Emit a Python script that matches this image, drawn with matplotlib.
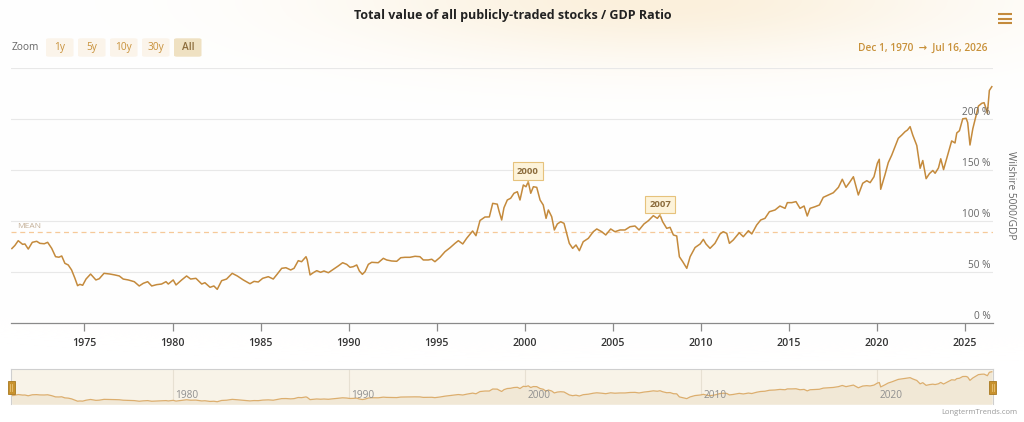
import numpy as np
import matplotlib
matplotlib.use('Agg')
import matplotlib.pyplot as plt
import matplotlib.transforms as mtransforms
from matplotlib.patches import Rectangle, FancyBboxPatch
from matplotlib.lines import Line2D

plt.rcParams['font.family'] = ['Open Sans', 'DejaVu Sans']

# --- data (decimal year, % of GDP) ---
years = [1970.88, 1971.05, 1971.24, 1971.49, 1971.62, 1971.81, 1972.04, 1972.29, 1972.47, 1972.72,
         1972.91, 1973.14, 1973.36, 1973.55, 1973.71, 1973.89, 1974.08, 1974.27, 1974.46, 1974.61,
         1974.74, 1974.90, 1975.09, 1975.35, 1975.65, 1975.84, 1976.11, 1976.45, 1976.73, 1976.98,
         1977.20, 1977.49, 1977.83, 1978.11, 1978.34, 1978.59, 1978.82, 1979.10, 1979.38, 1979.63,
         1979.76, 1980.04, 1980.20, 1980.52, 1980.80, 1981.03, 1981.33, 1981.66, 1981.84, 1982.13,
         1982.35, 1982.54, 1982.79, 1983.07, 1983.39, 1983.68, 1984.02, 1984.40, 1984.63, 1984.87,
         1985.12, 1985.44, 1985.72, 1985.95, 1986.20, 1986.44, 1986.71, 1986.90, 1987.14, 1987.33,
         1987.58, 1987.65, 1987.81, 1987.99, 1988.19, 1988.41, 1988.60, 1988.85, 1989.13, 1989.41,
         1989.66, 1989.89, 1990.08, 1990.26, 1990.46, 1990.61, 1990.78, 1990.93, 1991.12, 1991.31,
         1991.68, 1991.97, 1992.16, 1992.44, 1992.73, 1992.96, 1993.20, 1993.48, 1993.77, 1994.05,
         1994.24, 1994.52, 1994.72, 1994.90, 1995.19, 1995.47, 1995.76, 1996.04, 1996.23, 1996.48,
         1996.70, 1997.04, 1997.23, 1997.46, 1997.74, 1997.99, 1998.18, 1998.44, 1998.55, 1998.69,
         1998.82, 1999.01, 1999.20, 1999.39, 1999.58, 1999.73, 1999.92, 2000.07, 2000.20, 2000.34,
         2000.49, 2000.68, 2000.87, 2001.05, 2001.21, 2001.34, 2001.53, 2001.68, 2001.85, 2002.04,
         2002.23, 2002.38, 2002.53, 2002.72, 2002.91, 2003.10, 2003.32, 2003.61, 2003.89, 2004.09,
         2004.37, 2004.60, 2004.88, 2005.12, 2005.41, 2005.69, 2005.98, 2006.26, 2006.49, 2006.77,
         2007.02, 2007.30, 2007.53, 2007.68, 2007.83, 2008.06, 2008.25, 2008.44, 2008.63, 2008.78,
         2008.97, 2009.20, 2009.39, 2009.67, 2009.96, 2010.14, 2010.29, 2010.52, 2010.80, 2011.09,
         2011.27, 2011.47, 2011.62, 2011.84, 2012.18, 2012.41, 2012.70, 2012.89, 2013.17, 2013.40,
         2013.64, 2013.89, 2014.21, 2014.49, 2014.78, 2014.91, 2015.16, 2015.40, 2015.63, 2015.86,
         2016.04, 2016.20, 2016.48, 2016.73, 2016.95, 2017.24, 2017.52, 2017.81, 2018.03, 2018.24,
         2018.47, 2018.66, 2018.94, 2019.19, 2019.42, 2019.61, 2019.83, 2020.02, 2020.13, 2020.21,
         2020.45, 2020.64, 2020.84, 2021.02, 2021.21, 2021.41, 2021.59, 2021.73, 2021.88, 2022.03,
         2022.26, 2022.45, 2022.60, 2022.79, 2022.98, 2023.17, 2023.30, 2023.49, 2023.62, 2023.78,
         2024.05, 2024.24, 2024.43, 2024.53, 2024.68, 2024.87, 2025.06, 2025.15, 2025.28, 2025.44,
         2025.62, 2025.76, 2025.95, 2026.08, 2026.19, 2026.27, 2026.38, 2026.52]
ratio = [73.0, 76.0, 80.7, 77.1, 77.5, 72.5, 79.1, 80.1, 78.1, 77.7,
         79.1, 73.2, 65.0, 64.5, 65.7, 58.5, 56.9, 52.0, 43.8, 36.6,
         37.9, 37.0, 43.1, 48.0, 42.2, 43.4, 48.7, 48.0, 47.1, 46.1,
         43.1, 42.2, 40.5, 36.3, 38.9, 40.5, 36.3, 37.6, 38.2, 40.5,
         38.2, 42.2, 37.3, 42.2, 46.1, 43.1, 43.8, 38.2, 39.5, 35.0,
         36.3, 33.0, 41.5, 43.1, 48.7, 46.1, 42.2, 38.5, 40.8, 40.2,
         43.8, 45.4, 43.1, 48.0, 53.6, 54.2, 52.0, 53.6, 61.1, 60.1,
         65.0, 61.8, 47.1, 49.3, 51.3, 49.7, 51.0, 49.3, 52.6, 55.9,
         59.1, 57.5, 54.6, 55.2, 56.9, 51.0, 47.7, 50.3, 57.5, 59.5,
         59.1, 63.4, 61.8, 60.8, 60.5, 64.0, 64.4, 64.4, 65.4, 65.0,
         61.8, 61.8, 62.5, 60.1, 64.4, 69.9, 73.8, 78.1, 80.7, 77.5,
         83.0, 90.2, 85.6, 100.5, 103.9, 104.0, 117.3, 116.5, 109.1, 101.0,
         113.0, 120.6, 122.3, 127.2, 128.7, 120.6, 135.3, 133.6, 138.5, 127.2,
         133.6, 133.0, 120.6, 115.7, 102.6, 110.8, 104.2, 91.2, 97.1, 99.3,
         97.7, 87.9, 78.1, 73.2, 76.5, 70.9, 79.7, 83.0, 89.5, 92.2,
         89.5, 86.3, 92.2, 89.5, 91.2, 91.2, 94.4, 95.1, 91.2, 97.1,
         100.3, 105.2, 102.6, 105.9, 99.3, 92.8, 93.8, 86.3, 85.3, 65.0,
         60.1, 53.6, 65.0, 74.0, 77.5, 82.0, 77.5, 73.2, 78.1, 87.3,
         89.5, 87.9, 78.1, 81.4, 88.5, 84.6, 90.5, 87.3, 96.1, 101.0,
         102.6, 109.1, 110.8, 114.7, 112.4, 118.0, 118.0, 119.0, 112.4, 114.7,
         104.9, 112.4, 114.0, 115.7, 123.2, 125.5, 127.7, 133.0, 140.9, 133.0,
         138.5, 143.4, 125.5, 137.0, 139.5, 137.6, 143.4, 156.6, 160.5, 131.1,
         145.1, 157.2, 164.7, 172.8, 181.1, 184.3, 187.5, 189.2, 192.5, 184.3,
         174.0, 151.7, 159.3, 141.5, 146.5, 149.5, 146.8, 152.0, 161.0, 150.4,
         167.0, 178.5, 176.5, 186.3, 188.5, 200.2, 200.7, 196.5, 174.5, 190.4,
         203.1, 212.7, 215.4, 216.0, 210.4, 205.6, 228.0, 231.7]

mean_ratio = 89
y_ticks = [0, 50, 100, 150, 200]
x_ticks = [1975, 1980, 1985, 1990, 1995, 2000, 2005, 2010, 2015, 2020, 2025]
nav_ticks = [1980, 1990, 2000, 2010, 2020]
flag_labels = ['2000', '2007']
flag_years = [2000.18, 2007.70]
zoom_buttons = ['1y', '5y', '10y', '30y', 'All']

title = 'Total value of all publicly-traded stocks / GDP Ratio'
date_range = 'Dec 1, 1970  \u2192  Jul 16, 2026'

W, H = 1024, 422
line_c = '#c48a3c'
tan = '#c8913a'


def fx(px):
    return px / W


def fy(py):
    return 1 - py / H


fig = plt.figure(figsize=(W / 100, H / 100), dpi=100)

# soft glow behind the title
bg = fig.add_axes([0, 0, 1, 1], zorder=-10)
xx, yy = np.meshgrid(np.arange(W), np.arange(H))
w = np.exp(-((xx - 660) / 300.0) ** 2 - (yy / 60.0) ** 2)[..., None]
glow = np.array([251, 240, 220]) / 255.0
bg.imshow(np.ones((H, W, 3)) * (1 - w) + glow * w, extent=[0, W, H, 0], aspect='auto')
bg.set_xlim(0, W)
bg.set_ylim(H, 0)
bg.axis('off')

# main chart
xlim = (1970.83, 2026.57)
ax = fig.add_axes([fx(11), fy(323), (992.7 - 11) / W, (323 - 68) / H])
ax.set_facecolor('none')
ax.plot(years, ratio, color=line_c, lw=1.1, zorder=3)
ax.set_xlim(*xlim)
ax.set_ylim(0, 250)
for v in y_ticks[1:] + [250]:
    ax.axhline(v, color='#e8e8e8', lw=0.8, zorder=0)
ax.axhline(mean_ratio, color='#f6c999', lw=0.9, ls=(0, (4, 3)), zorder=1)
ax.text(1971.15, mean_ratio + 2, 'MEAN', fontsize=6, color='#c4b098', va='bottom')

for s in ['top', 'left', 'right']:
    ax.spines[s].set_visible(False)
ax.spines['bottom'].set_color('#8a8a8a')
ax.spines['bottom'].set_linewidth(0.9)
ax.set_yticks([])
ax.set_xticks(x_ticks)
ax.tick_params(axis='x', length=6, width=0.9, color='#8a8a8a', labelsize=7.7,
               labelcolor='#333333', pad=5)
for lbl in ax.get_xticklabels():
    lbl.set_fontweight('semibold')

ytrans = mtransforms.offset_copy(mtransforms.blended_transform_factory(ax.transAxes, ax.transData),
                                 fig=fig, y=0.5, units='points')
for v in y_ticks:
    ax.text(0.998, v, f'{v} %', transform=ytrans, ha='right', va='bottom',
            fontsize=7.3, color='#666666')

fig.text(fx(1010), fy(195), 'Wilshire 5000/GDP', rotation=270, ha='center', va='center',
         fontsize=7.3, color='#666666')

# flags
for lab, yr in zip(flag_labels, flag_years):
    yv = np.interp(yr, years, ratio)
    ax.annotate(lab, xy=(yr, yv), xytext=(0, 5), textcoords='offset points',
                ha='center', va='bottom', fontsize=6.8, fontweight='bold', color='#8c6c3c',
                bbox=dict(boxstyle='square,pad=0.45', fc='#fdf3da', ec='#e6c27c', lw=0.8),
                arrowprops=dict(arrowstyle='-', color='#e6c27c', lw=0.8, shrinkA=0, shrinkB=0),
                zorder=5)

# navigator
nav = fig.add_axes([fx(11), fy(404.3), 981.7 / W, 35 / H])
nav.set_facecolor('#f8f3e8')
nav.fill_between(years, ratio, 16, color='#f1e8d6', lw=0)
nav.plot(years, ratio, color='#dcae6e', lw=0.9)
nav.set_xlim(*xlim)
nav.set_ylim(16, 248)
navtrans = mtransforms.offset_copy(mtransforms.blended_transform_factory(nav.transData, nav.transAxes),
                                   fig=fig, x=2, units='points')
for t in nav_ticks:
    nav.axvline(t, color='#e7e0d2', lw=0.8, zorder=0)
    nav.text(t, 0.08, str(t), transform=navtrans, fontsize=7.3, color='#8f8f8f', va='bottom')
nav.set_xticks([])
nav.set_yticks([])
nav.spines['bottom'].set_visible(False)
for s in ['top', 'left', 'right']:
    nav.spines[s].set_color('#cfcfcf')
    nav.spines[s].set_linewidth(0.8)

# navigator handles
for hx in [11, 992.7]:
    fig.add_artist(Rectangle((fx(hx - 3.5), fy(394)), 7 / W, 13 / H, transform=fig.transFigure,
                             fc='#c8922e', ec='#a8781f', lw=0.6, zorder=10))
    for dx in [-1, 1]:
        fig.add_artist(Line2D([fx(hx + dx), fx(hx + dx)], [fy(391), fy(384)], color='#e8c47a',
                              lw=0.6, transform=fig.transFigure, zorder=11))

# header: title, zoom buttons, date range, menu icon
fig.text(fx(513), fy(15), title, ha='center', va='center', fontsize=9, fontweight='bold',
         color='#222222')
fig.text(fx(12), fy(48), 'Zoom', ha='left', va='center', fontsize=7.3, color='#666666')
for i, lab in enumerate(zoom_buttons):
    x0 = 46 + i * 32
    sel = lab == 'All'
    fig.add_artist(FancyBboxPatch((fx(x0), fy(56.7)), 27.5 / W, 18.4 / H,
                                  boxstyle='round,pad=0,rounding_size=0.003',
                                  transform=fig.transFigure, lw=0,
                                  fc='#efe1c2' if sel else '#fbf4ea'))
    fig.text(fx(x0 + 13.75), fy(47.5), lab, ha='center', va='center', fontsize=7.3,
             color='#8c6c3c' if sel else tan, fontweight='semibold' if sel else 'normal')

fig.text(fx(988), fy(48), date_range, ha='right', va='center', fontsize=7.3,
         fontweight='semibold', color=tan)
for yb in [14, 18.7, 23.3]:
    fig.add_artist(Line2D([fx(998), fx(1012)], [fy(yb), fy(yb)], color=line_c, lw=1.5,
                          solid_capstyle='butt', transform=fig.transFigure))

fig.text(fx(1017), fy(412), 'LongtermTrends.com', ha='right', va='center', fontsize=5.5,
         color='#999999')

fig.savefig('out.png', dpi=100)
